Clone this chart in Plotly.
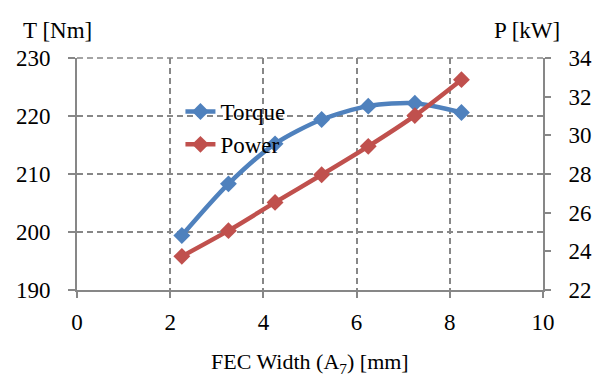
import plotly.graph_objects as go

width_mm = [2.25, 3.25, 4.25, 5.25, 6.25, 7.25, 8.25]
torque_nm = [199.4, 208.3, 215.2, 219.4, 221.7, 222.2, 220.6]
power_kw = [23.74, 25.07, 26.53, 27.96, 29.43, 31.02, 32.88]

x_ticks = [0, 2, 4, 6, 8, 10]
t_ticks = [190, 200, 210, 220, 230]
p_ticks = [22, 24, 26, 28, 30, 32, 34]

BLUE = "#4F81BD"
RED = "#C0504D"
GRAY = "#878787"
FONT = "Liberation Serif, Times New Roman, serif"
FS = 23

fig = go.Figure()
fig.add_trace(go.Scatter(
    x=width_mm, y=torque_nm, name="Torque", mode="lines+markers",
    line=dict(color=BLUE, width=4.5, shape="spline", smoothing=0.8),
    marker=dict(symbol="diamond", size=13, color=BLUE),
    yaxis="y"))
fig.add_trace(go.Scatter(
    x=width_mm, y=power_kw, name="Power", mode="lines+markers",
    line=dict(color=RED, width=4.5, shape="spline", smoothing=0.8),
    marker=dict(symbol="diamond", size=13, color=RED),
    yaxis="y2"))

W, H = 604, 376
L, R, T, B = 77, 54, 58, 86
pw, ph = W - L - R, H - T - B

def px(xp):
    return (xp - L) / pw

def py(yp):
    return 1 - (yp - T) / ph

def fnt(size=FS):
    return dict(family=FONT, size=size)

fig.update_layout(
    width=W, height=H,
    margin=dict(l=L, r=R, t=T, b=B, pad=0),
    paper_bgcolor="white", plot_bgcolor="white",
    font=dict(family=FONT, size=FS, color="black"),
    showlegend=True,
    legend=dict(x=px(182), y=py(90), xanchor="left", yanchor="top",
                bgcolor="rgba(0,0,0,0)", font=fnt(FS), tracegroupgap=0),
    xaxis=dict(range=[0, 10], tickvals=x_ticks, ticks="outside", ticklen=6,
               tickwidth=1.5, tickcolor=GRAY, showline=True, linecolor=GRAY,
               linewidth=2, showgrid=True, gridcolor=GRAY, gridwidth=1.5,
               griddash="6px,4px", zeroline=False, ticklabelstandoff=4,
               tickfont=fnt(FS)),
    xaxis3=dict(range=[0, 10], tickvals=x_ticks, ticks="inside", ticklen=6,
                tickwidth=1.5, tickcolor=GRAY, showticklabels=False,
                showline=False, showgrid=False, zeroline=False,
                overlaying="x", anchor="y", side="bottom"),
    yaxis=dict(range=[190, 230], tickvals=t_ticks, ticks="outside", ticklen=7,
               tickwidth=1.5, tickcolor=GRAY, showline=True, linecolor=GRAY,
               linewidth=2, showgrid=True, gridcolor=GRAY, gridwidth=1.5,
               griddash="6px,4px", zeroline=False, ticklabelstandoff=13,
               tickfont=fnt(FS)),
    yaxis2=dict(range=[22, 34], tickvals=p_ticks, ticks="outside", ticklen=6,
                tickwidth=1.5, tickcolor=GRAY, showline=True, linecolor=GRAY,
                linewidth=2, showgrid=False, zeroline=False, overlaying="y",
                side="right", anchor="x", ticklabelstandoff=13,
                tickfont=fnt(FS)),
    annotations=[
        dict(text="T [Nm]", x=px(57), y=py(30), xref="paper", yref="paper",
             xanchor="center", yanchor="middle", showarrow=False, font=fnt(FS)),
        dict(text="P [kW]", x=px(534), y=py(30), xref="paper", yref="paper",
             xanchor="center", yanchor="middle", showarrow=False, font=fnt(FS)),
        dict(text="FEC Width (A<sub>7</sub>) [mm]", x=px(313), y=py(363),
             xref="paper", yref="paper", xanchor="center", yanchor="middle",
             showarrow=False, font=fnt(22)),
    ],
    shapes=[
        dict(type="line", xref="paper", yref="paper", x0=0, x1=1, y0=1, y1=1,
             line=dict(color=GRAY, width=1.5, dash="6px,4px"), layer="below"),
    ],
)

fig.write_html("out.html")
